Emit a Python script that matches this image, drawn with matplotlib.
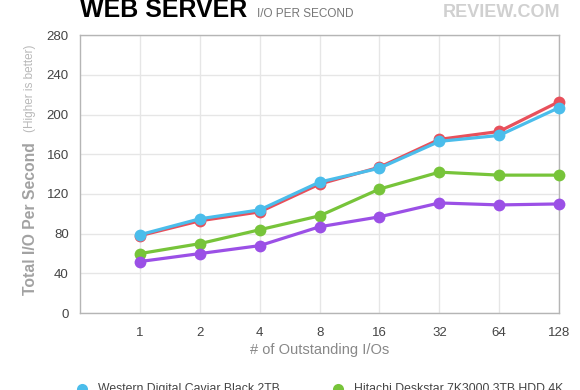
import matplotlib.pyplot as plt
import numpy as np

plt.rcParams['font.family'] = ['Liberation Sans', 'DejaVu Sans']

# outstanding I/O queue depths
queue_depth = ['1', '2', '4', '8', '16', '32', '64', '128']

# I/O per second per drive
red_iops = [78, 93, 102, 130, 147, 175, 183, 213]
blue_iops = [79, 95, 104, 132, 146, 173, 179, 207]
green_iops = [60, 70, 84, 98, 125, 142, 139, 139]
purple_iops = [52, 60, 68, 87, 97, 111, 109, 110]

blue_name = 'Western Digital Caviar Black 2TB'
green_name = 'Hitachi Deskstar 7K3000 3TB HDD 4K'

c_red = '#E8505B'
c_blue = '#4BBDEB'
c_green = '#77C43A'
c_purple = '#9B50E6'

fig = plt.figure(figsize=(5.8, 3.9), dpi=100)
ax = fig.add_axes([0.138, 0.197, 0.826, 0.713])

x = np.arange(len(queue_depth))
for vals, col in [(red_iops, c_red), (blue_iops, c_blue),
                  (green_iops, c_green), (purple_iops, c_purple)]:
    ax.plot(x, vals, color=col, lw=2.3, marker='o', ms=8.5,
            markeredgewidth=0, zorder=3, clip_on=False)

ax.set_xlim(-1, 7)
ax.set_ylim(0, 280)
ax.set_xticks(x)
ax.set_xticklabels(queue_depth)
ax.set_yticks(np.arange(0, 281, 40))
ax.tick_params(length=0, labelsize=9.5, colors='#444444', pad=8)
ax.tick_params(axis='x', pad=10)
ax.grid(True, color='#e6e6e6', lw=1, zorder=0)
for s in ax.spines.values():
    s.set_color('#b5b5b5')
    s.set_linewidth(1)

ax.set_xlabel('# of Outstanding I/Os', fontsize=10.5, color='#888888', labelpad=3)

# y label: main part and lighter note
fig.text(0.052, 0.44, 'Total I/O Per Second', rotation=90, fontsize=11.3,
         color='#a2a2a2', fontweight='bold', ha='center', va='center')
fig.text(0.052, 0.775, '(Higher is better)', rotation=90, fontsize=8.5,
         color='#b8b8b8', ha='center', va='center')

# header
fig.text(0.138, 0.957, 'WEB SERVER', fontsize=18, fontweight='bold',
         color='black', ha='left', va='baseline')
fig.text(0.443, 0.957, 'I/O PER SECOND', fontsize=8.5, color='#777777',
         ha='left', va='baseline')
fig.text(0.966, 0.957, 'REVIEW.COM', fontsize=13, fontweight='bold',
         family=['Liberation Sans Narrow', 'Liberation Sans'],
         color='#d0d0d0', ha='right', va='baseline')

# legend row, partly cut at the bottom edge
fig.lines.append(plt.Line2D([0.141], [0.003], marker='o', ms=8, color=c_blue,
                            markeredgewidth=0, transform=fig.transFigure))
fig.text(0.169, -0.006, blue_name, fontsize=8.8, color='#444444',
         ha='left', va='baseline')
fig.lines.append(plt.Line2D([0.583], [0.003], marker='o', ms=8, color=c_green,
                            markeredgewidth=0, transform=fig.transFigure))
fig.text(0.610, -0.006, green_name, fontsize=8.8, color='#444444',
         ha='left', va='baseline')

fig.savefig('out.png', dpi=100)
